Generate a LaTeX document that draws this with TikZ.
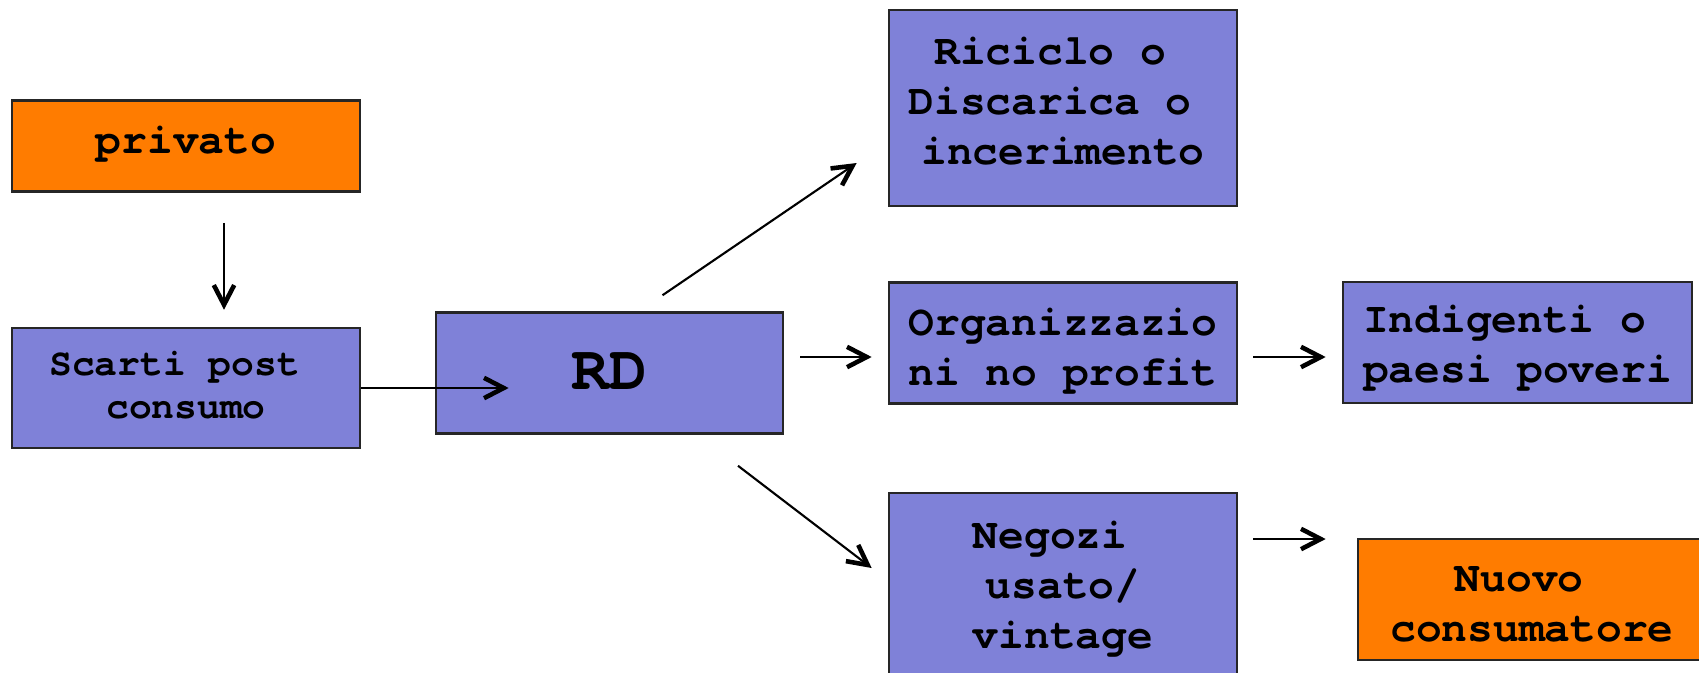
\documentclass[tikz,border=0pt]{standalone}
\usepackage{fontspec}
\setmonofont{TeX Gyre Cursor}[Ligatures=NoCommon]
\usetikzlibrary{arrows.meta,calc}

\definecolor{boxblu}{RGB}{127,129,216}
\definecolor{boxarancio}{RGB}{255,124,0}

\tikzset{
    scatola/.style={draw=black!85, line width=0.7pt, inner sep=0pt,
        minimum width=3.48cm, minimum height=1.21cm},
    blu/.style={scatola, fill=boxblu},
    arancio/.style={scatola, fill=boxarancio},
    testo/.style={align=center, inner sep=0pt,
        font=\ttfamily\bfseries\fontsize{12.2}{14.3}\selectfont},
    freccia/.style={line width=0.6pt,
        -{Straight Barb[length=5.6pt,width=5.8pt,line width=1.3pt]}}
}

\begin{document}
\begin{tikzpicture}[x=0.01cm, y=-0.01cm]
    \useasboundingbox (0,0) rectangle (1699,672);

    % colonna sinistra
    \node[arancio, minimum height=0.91cm] (privato) at (186,146) {};
    \node[blu, minimum height=1.20cm] (scarti) at (186,388) {};
    \node[blu, minimum width=3.47cm] (rd) at (609.5,373) {};

    % destinazioni
    \node[blu, minimum height=1.96cm] (riciclo) at (1063,108) {};
    \node[blu] (organ) at (1063,343) {};
    \node[blu, minimum width=3.49cm] (indigenti) at (1517.5,342.5) {};
    \node[blu, minimum height=1.96cm] (negozi) at (1063,591) {};
    \node[arancio] (nuovo) at (1532,599.5) {};

    % testi
    \node[testo] (privato-t) at ($(privato)+(0,-2)$) {privato};
    \node[testo, font=\ttfamily\bfseries\fontsize{10.8}{12.1}\selectfont] (scarti-t)
        at ($(scarti)+(0,-3)$) {Scarti post\hphantom{x}\\consumo};
    \node[testo, font=\ttfamily\bfseries\fontsize{18}{20}\selectfont] (rd-t)
        at ($(rd)+(0,-2)$) {RD};
    \node[testo] (riciclo-t) at ($(riciclo)+(0,-7)$)
        {Riciclo o\hphantom{x}\\Discarica o\hphantom{x}\\incerimento};
    \node[testo] (organ-t) at ($(organ)+(0,8)$) {Organizzazio\\ni no profit};
    \node[testo] (indigenti-t) at ($(indigenti)+(0,6)$) {Indigenti o\hphantom{x}\\paesi poveri};
    \node[testo] (negozi-t) at ($(negozi)+(0,-2)$) {Negozi\hphantom{x}\\usato/\\vintage};
    \node[testo] (nuovo-t) at ($(nuovo)+(0,5)$) {Nuovo\hphantom{x}\\consumatore};

    % frecce
    \draw[freccia] ($(privato.south)+(38,30)$) -- ($(scarti.north)+(38,-17)$);
    \draw[freccia] (scarti.east) -- ($(rd.west |- scarti.east)+(74,0)$);
    \draw[freccia] ($(rd.north)+(53,-16)$) -- ($(riciclo.west)+(-31,55)$);
    \draw[freccia] ($(rd.east)+(16,-16)$) -- ($(organ.west)+(-16,14)$);
    \draw[freccia] ($(rd.south)+(128.5,31)$) -- ($(negozi.west)+(-16,-23)$);
    \draw[freccia] ($(organ.east)+(15,14)$) -- ($(indigenti.west)+(-16,14.5)$);
    \draw[freccia] ($(negozi.east)+(15,-52)$) -- ($(nuovo.west)+(-31,-60.5)$);
\end{tikzpicture}
\end{document}
